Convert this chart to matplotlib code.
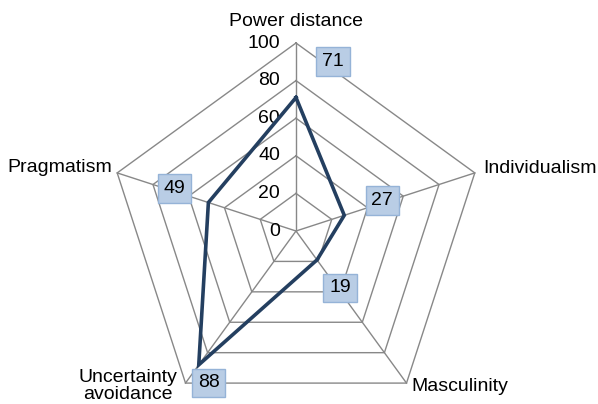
import numpy as np
import matplotlib
matplotlib.use("Agg")
import matplotlib.pyplot as plt

categories = ["Power distance", "Individualism", "Masculinity", "Uncertainty\navoidance", "Pragmatism"]
values = [71, 27, 19, 88, 49]
ticks = [0, 20, 40, 60, 80, 100]

# style: pixel offsets of data-label boxes
label_offsets = [(37, 36), (38, 15), (23, -28), (10, -18), (-34, 14)]

plt.rcParams['font.family'] = ['Liberation Sans', 'DejaVu Sans']

W, H = 598, 404
cx, cy, R = 296, 231, 188
fig = plt.figure(figsize=(W / 100, H / 100), dpi=100)
ax = fig.add_axes([0, 0, 1, 1])
ax.set_xlim(-cx / R, (W - cx) / R)
ax.set_ylim(-(H - cy) / R, cy / R)
ax.axis('off')

n = len(categories)
ang = np.pi / 2 - np.arange(n) * 2 * np.pi / n
ux, uy = np.cos(ang), np.sin(ang)

grid_col = '#888888'
for t in ticks[1:]:
    f = t / 100
    ax.plot(np.append(ux * f, ux[0] * f), np.append(uy * f, uy[0] * f), color=grid_col, lw=1.0, zorder=1)
for i in range(n):
    ax.plot([0, ux[i]], [0, uy[i]], color=grid_col, lw=1.0, zorder=1)

fs = 14
for t in ticks:
    ax.text(-16 / R, t / 100, str(t), ha='right', va='center', fontsize=fs, color='black')

v = np.array(values) / 100
ax.plot(np.append(ux * v, ux[0] * v[0]), np.append(uy * v, uy[0] * v[0]),
        color='#243F60', lw=2.6, zorder=3, solid_joinstyle='miter')

for i in range(n):
    ax.annotate(str(values[i]), (ux[i] * v[i], uy[i] * v[i]), xytext=label_offsets[i],
                textcoords='offset pixels', ha='center', va='center', fontsize=fs,
                bbox=dict(boxstyle='square,pad=0.3', fc='#B9CDE5', ec='#95B3D7', lw=1), zorder=4)

# category labels
ax.text(0, 1 + 21 / R, categories[0], ha='center', va='center', fontsize=fs)
ax.text(ux[1] + 8 / R, uy[1] + 4 / R, categories[1], ha='left', va='center', fontsize=fs)
ax.text(ux[2] + 5 / R, uy[2] - 3 / R, categories[2], ha='left', va='center', fontsize=fs)
ax.text(ux[3] - 58 / R, uy[3] - 3 / R, categories[3], ha='center', va='center', fontsize=fs, linespacing=0.95)
ax.text(ux[4] - 5 / R, uy[4] + 5 / R, categories[4], ha='right', va='center', fontsize=fs)

fig.savefig('out.png', dpi=100)
